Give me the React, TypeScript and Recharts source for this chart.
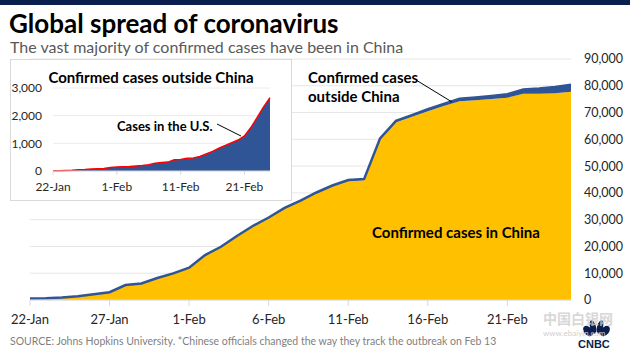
import { AreaChart, Area, XAxis, YAxis, CartesianGrid } from 'recharts';

// Cumulative confirmed cases, 22-Jan .. 25-Feb
const DATES = [
  '22-Jan', '23-Jan', '24-Jan', '25-Jan', '26-Jan', '27-Jan', '28-Jan', '29-Jan', '30-Jan', '31-Jan',
  '1-Feb', '2-Feb', '3-Feb', '4-Feb', '5-Feb', '6-Feb', '7-Feb', '8-Feb', '9-Feb', '10-Feb',
  '11-Feb', '12-Feb', '13-Feb', '14-Feb', '15-Feb', '16-Feb', '17-Feb', '18-Feb', '19-Feb', '20-Feb',
  '21-Feb', '22-Feb', '23-Feb', '24-Feb', '25-Feb',
];
const CHINA = [
  548, 643, 920, 1406, 2075, 2877, 5509, 6087, 8141, 9802,
  11891, 16630, 19716, 23707, 27440, 30587, 34110, 36814, 39829, 42354,
  44386, 44759, 59895, 66358, 68413, 70513, 72434, 74211, 74619, 75077,
  75550, 77001, 77022, 77241, 77754,
];
const OUTSIDE = [
  7, 11, 21, 28, 43, 50, 69, 79, 93, 125,
  147, 157, 165, 185, 195, 230, 281, 306, 321, 408,
  416, 462, 473, 527, 617, 711, 824, 925, 1020, 1120,
  1269, 1571, 1936, 2320, 2652,
];
const MAIN_TICKS = [0, 10000, 20000, 30000, 40000, 50000, 60000, 70000, 80000, 90000];
const INSET_TICKS = [0, 1000, 2000, 3000];

const FONT = 'Lato, "Noto Sans", sans-serif';
const YELLOW = '#ffc000';
const BLUE = '#2f5597';
const NAVY = '#0a1f4e';
const fmt = (v: number) => v.toLocaleString('en-US');

const data = DATES.map((d, i) => ({ date: d, china: CHINA[i], outside: OUTSIDE[i] }));

export default function App() {
  return (
    <div style={{ position: 'absolute', left: 0, top: 0, width: 630, height: 354, background: '#fff', fontFamily: FONT, overflow: 'hidden' }}>
      <div style={{ position: 'absolute', left: 0, top: 0, width: 630, height: 5, background: NAVY }} />
      <div style={{ position: 'absolute', left: 9, top: 7, fontSize: 26, fontWeight: 700, color: '#000', lineHeight: '32px' }}>
        Global spread of coronavirus
      </div>
      <div style={{ position: 'absolute', left: 10, top: 37, fontSize: 16, color: '#595959', lineHeight: '20px' }}>
        The vast majority of confirmed cases have been in China
      </div>

      {/* main chart */}
      <div style={{ position: 'absolute', left: 0, top: 0 }}>
        <AreaChart width={630} height={354} data={data} margin={{ top: 59, right: 4, left: 30, bottom: 24 }}>
          <CartesianGrid vertical={false} stroke="#e6e6e6" />
          <XAxis
            dataKey="date"
            interval={4}
            height={30}
            tick={{ fill: '#262626', fontSize: 13, fontFamily: FONT }}
            tickMargin={9}
            tickSize={6}
            axisLine={{ stroke: '#d9d9d9' }}
            tickLine={{ stroke: '#d9d9d9' }}
          />
          <YAxis
            orientation="right"
            width={55}
            domain={[0, 90000]}
            ticks={MAIN_TICKS}
            tickFormatter={fmt}
            tick={{ fill: '#262626', fontSize: 12.5, fontFamily: FONT }}
            tickMargin={7}
            tickLine={false}
            axisLine={false}
          />
          <Area type="linear" dataKey="china" stackId="a" fill={YELLOW} fillOpacity={1} stroke="none" isAnimationActive={false} />
          <Area type="linear" dataKey="outside" stackId="a" fill={BLUE} fillOpacity={1} stroke={BLUE} strokeWidth={2.5} isAnimationActive={false} />
        </AreaChart>
      </div>

      <div style={{ position: 'absolute', left: 372, top: 222, fontSize: 15, fontWeight: 700, color: '#000', lineHeight: '20px' }}>
        Confirmed cases in China
      </div>
      <div style={{ position: 'absolute', left: 308, top: 68, fontSize: 15, fontWeight: 700, color: '#000', lineHeight: '19px' }}>
        Confirmed cases<br />outside China
      </div>

      {/* inset */}
      <div style={{ position: 'absolute', left: 10, top: 59, width: 282, height: 142, boxSizing: 'border-box', border: '1px solid #d9d9d9', background: '#fff' }}>
        <AreaChart width={280} height={140} data={data} margin={{ top: 28, right: 21, left: 8, bottom: 5 }}>
          <CartesianGrid vertical={false} stroke="#ececec" />
          <XAxis
            dataKey="date"
            interval={9}
            height={24}
            tick={{ fill: '#262626', fontSize: 12, fontFamily: FONT }}
            tickMargin={7}
            tickSize={4}
            axisLine={{ stroke: '#d9d9d9' }}
            tickLine={{ stroke: '#d9d9d9' }}
          />
          <YAxis
            width={34}
            domain={[0, 3000]}
            ticks={INSET_TICKS}
            tickFormatter={fmt}
            tick={{ fill: '#262626', fontSize: 12, fontFamily: FONT }}
            tickMargin={5}
            tickLine={false}
            axisLine={false}
          />
          <Area type="linear" dataKey="outside" fill={BLUE} fillOpacity={1} stroke="#ff0000" strokeWidth={1.5} isAnimationActive={false} />
        </AreaChart>
        <div style={{ position: 'absolute', left: 0, width: 280, top: 7, textAlign: 'center', fontSize: 15, fontWeight: 700, color: '#000', lineHeight: '20px' }}>
          Confirmed cases outside China
        </div>
        <div style={{ position: 'absolute', left: 106, top: 57, fontSize: 13, fontWeight: 700, color: '#000', lineHeight: '18px' }}>
          Cases in the U.S.
        </div>
      </div>

      {/* leader lines */}
      <svg width={630} height={354} style={{ position: 'absolute', left: 0, top: 0, pointerEvents: 'none' }}>
        <line x1={416} y1={80} x2={452} y2={102} stroke="#000" strokeWidth={1} />
        <line x1={217} y1={124} x2={241} y2={136} stroke="#000" strokeWidth={1} />
        {/* peacock mark */}
        <g fill={NAVY}>
          <ellipse cx={588} cy={331} rx={4} ry={6} transform="rotate(-40 588 331)" />
          <ellipse cx={593} cy={327} rx={3} ry={7} transform="rotate(-15 593 327)" />
          <ellipse cx={600} cy={327} rx={3} ry={7} transform="rotate(15 600 327)" />
          <ellipse cx={605} cy={331} rx={4} ry={6} transform="rotate(40 605 331)" />
        </g>
      </svg>

      <div style={{ position: 'absolute', left: 10, top: 334, fontSize: 10.5, color: '#7f7f7f', lineHeight: '15px' }}>
        SOURCE: Johns Hopkins University. *Chinese officials changed the way they track the outbreak on Feb 13
      </div>

      {/* watermark + logo */}
      <div style={{ position: 'absolute', left: 543, top: 310, fontSize: 14, fontWeight: 700, color: '#cfcfcf', opacity: 0.8, fontFamily: '"Noto Sans CJK SC", sans-serif', lineHeight: '16px' }}>
        中国白银网
      </div>
      <div style={{ position: 'absolute', left: 543, top: 328, fontSize: 8, color: '#cfcfcf', lineHeight: '10px' }}>
        www.ebaiyin.com
      </div>
      <div style={{ position: 'absolute', left: 578, top: 338, fontSize: 11, fontWeight: 900, color: NAVY, fontFamily: '"Liberation Sans", Arial, sans-serif', lineHeight: '12px' }}>
        CNBC
      </div>
    </div>
  );
}
